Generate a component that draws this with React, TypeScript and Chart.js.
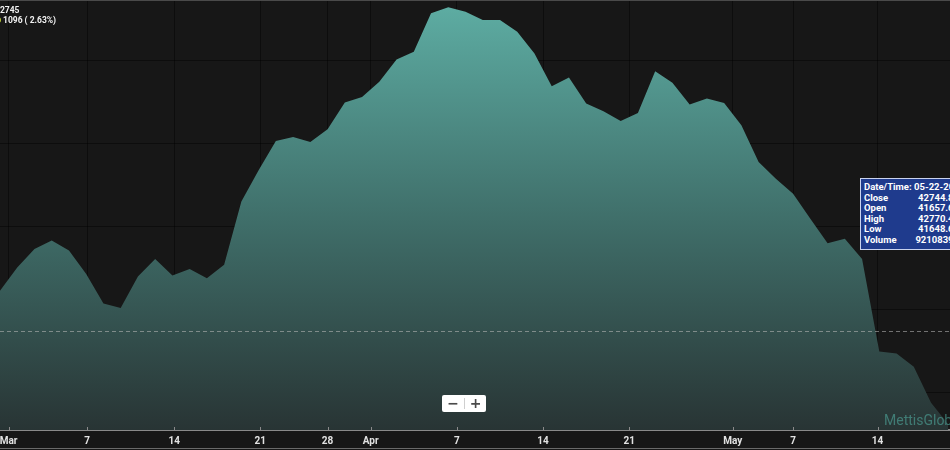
import React, { useEffect, useRef } from 'react';
import { Chart, registerables } from 'chart.js';

Chart.register(...registerables);

// Daily closing values (trading-day index 0..55)
const closeValues = [
  43229, 43506, 43731, 43831, 43711, 43430, 43076, 43020, 43398, 43611,
  43410, 43490, 43377, 43539, 44301, 44675, 45028, 45076, 45016, 45169,
  45490, 45558, 45739, 46008, 46100, 46563, 46635, 46582, 46482, 46482,
  46341, 46081, 45687, 45792, 45478, 45386, 45269, 45365, 45867, 45727,
  45466, 45539, 45486, 45217, 44775, 44575, 44394, 44093, 43799, 43852,
  43611, 42498, 42473, 42313, 41883, 41623,
];

const tickLabels = ['Mar', '7', '14', '21', '28', 'Apr', '7', '14', '21', 'May', '7', '14'];
const tickPositions = [0.5, 5.05, 10.1, 15.1, 19, 21.5, 26.5, 31.5, 36.5, 42.5, 46, 50.9];
const yGridValues = [42000, 43000, 44000, 45000, 46000];
const yMin = 41554;
const yMax = 46723;
const xMax = 55.1;
const crosshairValue = 42745;

const tooltipLabels = ['Date/Time:', 'Close', 'Open', 'High', 'Low', 'Volume'];
const tooltipValues = ['05-22-2018', '42744.83', '41657.68', '42770.45', '41648.66', '92108393'];

const headerValue = '42745';
const headerChange = '1096 ( 2.63%)';

const narrow = 'Roboto, "Noto Sans", sans-serif';

const decorPlugin = {
  id: 'decor',
  beforeDraw(chart: any) {
    const { ctx, width, height } = chart;
    ctx.save();
    ctx.fillStyle = '#171717';
    ctx.fillRect(0, 0, width, height);
    ctx.restore();
  },
  afterDraw(chart: any) {
    const { ctx, chartArea, scales, width } = chart;
    const y = scales.y.getPixelForValue(crosshairValue);
    ctx.save();
    ctx.strokeStyle = 'rgba(190,190,190,0.55)';
    ctx.lineWidth = 1;
    ctx.setLineDash([4, 3]);
    ctx.beginPath();
    ctx.moveTo(chartArea.left, Math.round(y) + 0.5);
    ctx.lineTo(chartArea.right, Math.round(y) + 0.5);
    ctx.stroke();
    ctx.setLineDash([]);
    ctx.strokeStyle = '#8a8a8a';
    tickPositions.forEach((p) => {
      const x = Math.round(scales.x.getPixelForValue(p)) + 0.5;
      ctx.beginPath();
      ctx.moveTo(x, chartArea.bottom - 3);
      ctx.lineTo(x, chartArea.bottom);
      ctx.stroke();
    });
    ctx.strokeStyle = '#4a4a4a';
    ctx.beginPath();
    ctx.moveTo(0, 0.5);
    ctx.lineTo(width, 0.5);
    ctx.stroke();
    ctx.strokeStyle = '#6a6a6a';
    ctx.beginPath();
    ctx.moveTo(0, 448.5);
    ctx.lineTo(width, 448.5);
    ctx.stroke();
    ctx.restore();
  },
};

export default function App() {
  const canvasRef = useRef<HTMLCanvasElement>(null);

  useEffect(() => {
    document.body.style.margin = '0';
    const canvas = canvasRef.current;
    if (!canvas) return;
    const chart = new Chart(canvas, {
      type: 'line',
      data: {
        datasets: [
          {
            label: 'Close',
            data: closeValues.map((v, i) => ({ x: i, y: v })),
            fill: 'start',
            borderWidth: 0,
            borderColor: 'rgba(0,0,0,0)',
            pointRadius: 0,
            tension: 0,
            backgroundColor: (ctx: any) => {
              const { chart: c } = ctx;
              const area = c.chartArea;
              if (!area) return 'rgba(90,168,158,0.8)';
              const g = c.ctx.createLinearGradient(0, area.top, 0, area.bottom);
              g.addColorStop(0, '#5eaea4');
              g.addColorStop(0.5, '#40706b');
              g.addColorStop(1, '#283434');
              return g;
            },
          },
        ],
      },
      options: {
        animation: false,
        responsive: true,
        maintainAspectRatio: false,
        layout: { padding: 0 },
        plugins: {
          legend: { display: false },
          tooltip: { enabled: false },
        },
        events: [],
        scales: {
          x: {
            type: 'linear',
            min: 0,
            max: xMax,
            z: 1,
            afterBuildTicks: (s: any) => {
              s.ticks = tickPositions.map((v) => ({ value: v }));
            },
            afterFit: (s: any) => {
              s.height = 20;
              s.paddingLeft = 0;
              s.paddingRight = 0;
            },
            grid: { color: 'rgba(0,0,0,0.42)', lineWidth: 1, drawTicks: false },
            border: { display: true, color: '#8a8a8a', width: 2 },
            ticks: {
              autoSkip: false,
              maxRotation: 0,
              padding: 5,
              color: '#e2e2e2',
              font: { size: 10, weight: 'bold', family: narrow },
              callback: (_v: any, i: number) => tickLabels[i],
            },
          },
          y: {
            type: 'linear',
            min: yMin,
            max: yMax,
            z: 1,
            afterBuildTicks: (s: any) => {
              s.ticks = yGridValues.map((v) => ({ value: v }));
            },
            afterFit: (s: any) => {
              s.width = 0;
            },
            grid: { color: 'rgba(0,0,0,0.42)', lineWidth: 1, drawTicks: false },
            border: { display: false },
            ticks: { display: false },
          },
        },
      },
      plugins: [decorPlugin],
    } as any);
    return () => chart.destroy();
  }, []);

  return (
    <div
      style={{
        position: 'fixed',
        left: 0,
        top: 0,
        width: 950,
        height: 450,
        overflow: 'hidden',
        background: '#171717',
      }}
    >
      <canvas ref={canvasRef} style={{ width: 950, height: 450, display: 'block' }} />
      <div
        style={{
          position: 'absolute',
          left: -5,
          top: 6,
          color: '#f2f2f2',
          fontFamily: narrow,
          fontWeight: 'bold',
          fontSize: 8.5,
          lineHeight: '9.5px',
          whiteSpace: 'nowrap',
        }}
      >
        <div>{headerValue}</div>
        <div style={{ display: 'flex', alignItems: 'center' }}>
          <span
            style={{
              display: 'inline-block',
              width: 6,
              height: 6,
              borderRadius: 3,
              background: '#b5c935',
              marginRight: 2,
            }}
          />
          <span>{headerChange}</span>
        </div>
      </div>
      <div
        style={{
          position: 'absolute',
          left: 860,
          top: 178,
          width: 104,
          height: 72,
          background: '#1f3b8d',
          border: '1.5px solid #c9d3ef',
          boxSizing: 'border-box',
          padding: '3px 3px 0 3px',
          color: '#ffffff',
          fontFamily: narrow,
          fontWeight: 'bold',
          fontSize: 9.5,
          lineHeight: '10.6px',
          whiteSpace: 'nowrap',
        }}
      >
        {tooltipLabels.map((l, i) => (
          <div key={l} style={{ display: 'flex' }}>
            <span style={{ width: 50 }}>{l}</span>
            <span style={{ width: 45, textAlign: 'right' }}>{tooltipValues[i]}</span>
          </div>
        ))}
      </div>
      <div
        style={{
          position: 'absolute',
          left: 442,
          top: 395,
          width: 44,
          height: 17,
          background: '#ffffff',
          borderRadius: 2,
          display: 'flex',
          alignItems: 'center',
          color: '#4a4a4a',
          fontFamily: '"DejaVu Sans", sans-serif',
          fontWeight: 'bold',
          fontSize: 14,
        }}
      >
        <span style={{ width: 22, textAlign: 'center', lineHeight: '17px' }}>−</span>
        <span style={{ width: 1, height: 11, background: '#cfcfcf' }} />
        <span style={{ width: 21, textAlign: 'center', lineHeight: '17px' }}>+</span>
      </div>
      <div
        style={{
          position: 'absolute',
          left: 884,
          top: 412,
          color: 'rgba(80,170,158,0.6)',
          fontFamily: 'Roboto, sans-serif',
          fontSize: 14,
          whiteSpace: 'nowrap',
        }}
      >
        MettisGlobal
      </div>
    </div>
  );
}
